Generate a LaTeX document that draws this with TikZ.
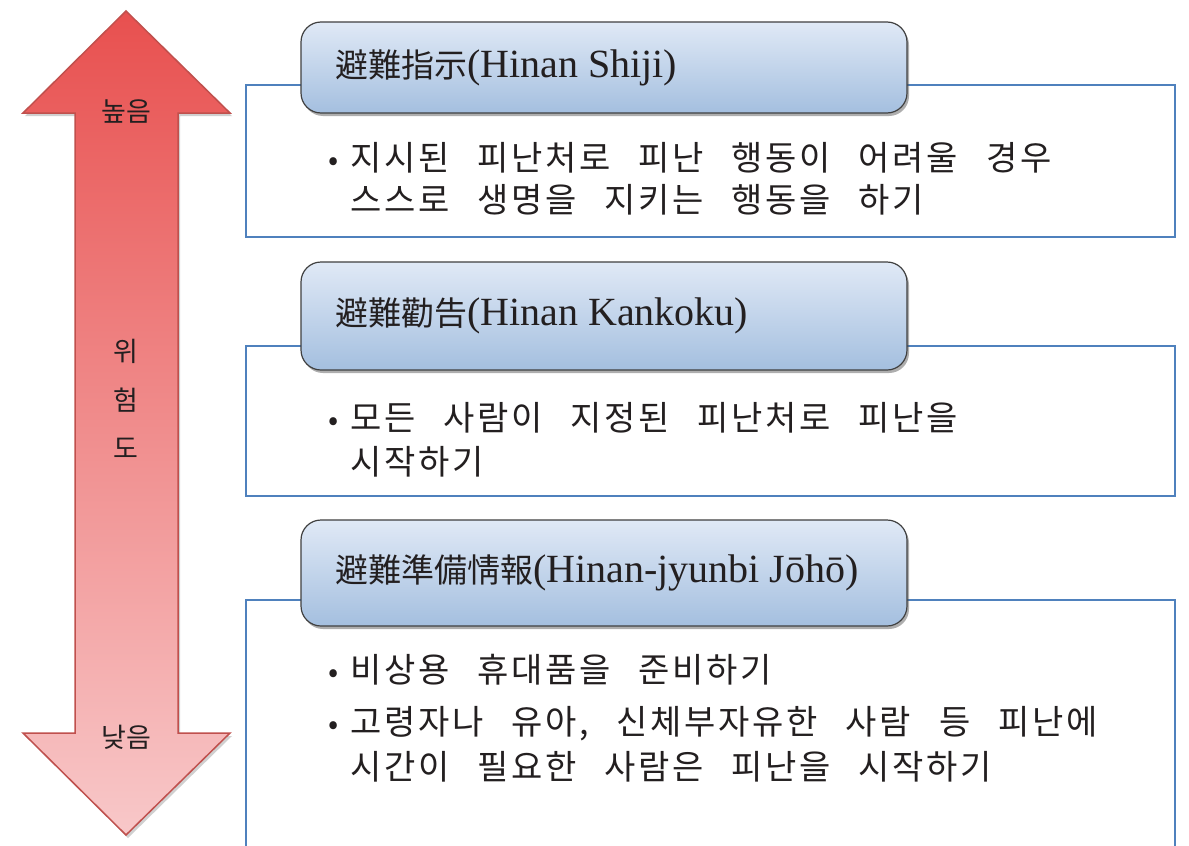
\documentclass[tikz,border=0pt]{standalone}
\usepackage{fontspec}
\usetikzlibrary{shadows}
\newfontfamily\krfont{Noto Sans CJK KR}
\newfontfamily\krbody[LetterSpace=8,WordSpace=2.7]{Noto Sans CJK KR}
\newfontfamily\latserif{Liberation Serif}
\definecolor{arrowtop}{HTML}{E8504F}
\definecolor{arrowbot}{HTML}{F8C8C9}
\definecolor{arrowedge}{HTML}{C0504D}
\definecolor{hdtop}{HTML}{E0E9F6}
\definecolor{hdbot}{HTML}{A4BFDF}
\definecolor{hdedge}{HTML}{404040}
\definecolor{boxedge}{HTML}{4F81BD}
\definecolor{txt}{HTML}{231F20}
\begin{document}
\begin{tikzpicture}[x=1pt,y=-1pt,
  bluebox/.style={draw=boxedge, line width=1.6pt, fill=white, inner sep=0pt},
  header/.style={draw=hdedge, line width=1.2pt, rounded corners=20pt,
    top color=hdtop, bottom color=hdbot, inner sep=0pt,
    drop shadow={shadow xshift=2pt, shadow yshift=-3pt, opacity=0.45, fill=black!70}},
  hdtext/.style={anchor=west, inner sep=0pt, text=txt, font=\krfont\fontsize{33}{40}\selectfont},
  bodytext/.style={anchor=base west, inner sep=0pt, text=txt, font=\krbody\fontsize{34}{44}\selectfont},
  bullet/.style={anchor=base west, inner sep=0pt, text=txt, font=\krfont\fontsize{30}{44}\selectfont},
  side/.style={inner sep=0pt, text=txt, font=\krfont\fontsize{27}{30}\selectfont}]
\useasboundingbox (0,0) rectangle (1189,846);
\clip (0,0) rectangle (1189,846);
\fill[white] (0,0) rectangle (1189,846);

% arrow
\path[draw=arrowedge, line width=1.5pt, top color=arrowtop, bottom color=arrowbot,
  drop shadow={shadow xshift=2pt, shadow yshift=-3pt, opacity=0.3, fill=black!60}]
  (126,11) -- (230,113) -- (178,113) -- (178,733) -- (230,733) -- (126,835)
  -- (23,733) -- (75,733) -- (75,113) -- (23,113) -- cycle;
\node[side] (hi) at (126,111) {높음};
\node[side] (w1) at (126,351) {위};
\node[side] (w2) at (126,400) {험};
\node[side] (w3) at (126,448) {도};
\node[side] (lo) at (126,737) {낮음};

% boxes
\node[bluebox, minimum width=929pt, minimum height=152pt] (b1) at (710.5,161) {};
\node[bluebox, minimum width=929pt, minimum height=150pt] (b2) at (710.5,421) {};
\node[bluebox, minimum width=929pt, minimum height=300pt] (b3) at (710.5,750) {};

% headers
\node[header, minimum width=606pt, minimum height=91pt] (h1) at (604,67.5) {};
\node[header, minimum width=606pt, minimum height=108pt] (h2) at (604,316) {};
\node[header, minimum width=606pt, minimum height=106pt] (h3) at (604,573) {};

\node[hdtext] (t1) at (335,68) {避難指示{\latserif\fontsize{40}{40}\selectfont(Hinan Shiji)}};
\node[hdtext] (t2) at (335,316) {避難勸告{\latserif\fontsize{40}{40}\selectfont(Hinan Kankoku)}};
\node[hdtext] (t3) at (335,573) {避難準備情報{\latserif\fontsize{40}{40}\selectfont(Hinan-jyunbi Jōhō)}};

% body texts
\node[bullet] (p1) at (328,170) {•};
\node[bodytext] (l11) at (350,170) {지시된 피난처로 피난 행동이 어려울 경우};
\node[bodytext] (l12) at (350,212) {스스로 생명을 지키는 행동을 하기};

\node[bullet] (p2) at (328,430) {•};
\node[bodytext] (l21) at (350,430) {모든 사람이 지정된 피난처로 피난을};
\node[bodytext] (l22) at (350,474) {시작하기};

\node[bullet] (p3) at (328,682) {•};
\node[bodytext] (l31) at (350,682) {비상용 휴대품을 준비하기};
\node[bullet] (p4) at (328,734) {•};
\node[bodytext] (l32) at (350,734) {고령자나 유아, 신체부자유한 사람 등 피난에};
\node[bodytext] (l33) at (350,779) {시간이 필요한 사람은 피난을 시작하기};
\end{tikzpicture}
\end{document}
